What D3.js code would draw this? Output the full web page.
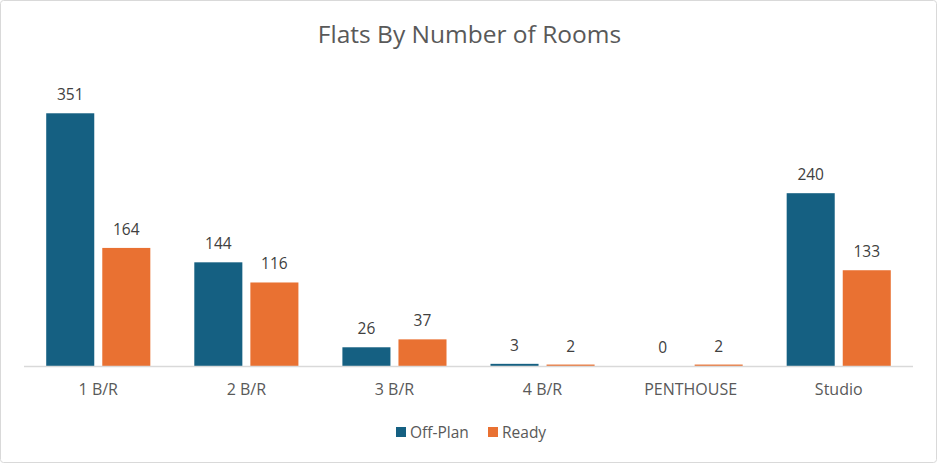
<!DOCTYPE html>
<html><head><meta charset="utf-8">
<script src="https://cdn.jsdelivr.net/npm/d3@7"></script>
<style>body{margin:0;background:#fff}svg{display:block}</style>
</head><body>
<script>
const categories = ["1 B/R","2 B/R","3 B/R","4 B/R","PENTHOUSE","Studio"];
const offPlan = [351,144,26,3,0,240];
const ready = [164,116,37,2,2,133];
const seriesNames = ["Off-Plan","Ready"];
const colors = ["#156082","#E97132"];
const title = "Flats By Number of Rooms";

const W = 937, H = 463;
const font = "'Open Sans', 'Noto Sans', sans-serif";
const svg = d3.select("body").append("svg").attr("width",W).attr("height",H);
svg.append("rect").attr("x",0.5).attr("y",0.5).attr("width",W-1).attr("height",H-1)
  .attr("rx",3).attr("fill","#fff").attr("stroke","#d9d9d9");

const x0 = d3.scaleBand().domain(categories).range([24,913]).paddingInner(0.297).paddingOuter(0.15);
const x1 = d3.scaleBand().domain(seriesNames).range([0,x0.bandwidth()]).paddingInner(0.143);
const y = d3.scaleLinear().domain([0,400]).range([366,78]);

svg.append("text").attr("x",W/2+1).attr("y",43).attr("text-anchor","middle")
  .attr("font-family",font).attr("font-size",24.5).attr("fill","#595959").text(title);

const data = categories.map((c,i)=>({c, vals:[offPlan[i],ready[i]]}));
const g = svg.append("g");
data.forEach(d=>{
  d.vals.forEach((v,j)=>{
    const bx = x0(d.c)+x1(seriesNames[j]);
    const h = Math.max(y(0)-y(v), v>0?1:0);
    if(h>0) g.append("rect").attr("x",bx).attr("y",y(0)-h).attr("width",x1.bandwidth())
      .attr("height",h).attr("fill",colors[j]);
    g.append("text").attr("x",bx+x1.bandwidth()/2).attr("y",y(v)-13)
      .attr("text-anchor","middle").attr("font-family",font).attr("font-size",15.5)
      .attr("fill","#404040").text(v);
  });
});

svg.append("line").attr("x1",24).attr("x2",913).attr("y1",366.5).attr("y2",366.5)
  .attr("stroke","#d9d9d9").attr("stroke-width",1.5);

const ax = svg.append("g").attr("transform","translate(0,366)")
  .call(d3.axisBottom(x0).tickSize(0).tickPadding(18));
ax.select(".domain").remove();
ax.selectAll("text").attr("font-family",font).attr("font-size",16).attr("fill","#595959");

const leg = svg.append("g");
const legX = [396,488];
seriesNames.forEach((s,i)=>{
  leg.append("rect").attr("x",legX[i]).attr("y",427).attr("width",10).attr("height",10).attr("fill",colors[i]);
  leg.append("text").attr("x",legX[i]+14).attr("y",438).attr("font-family",font)
    .attr("font-size",15.5).attr("fill","#595959").text(s);
});
</script>
</body></html>
